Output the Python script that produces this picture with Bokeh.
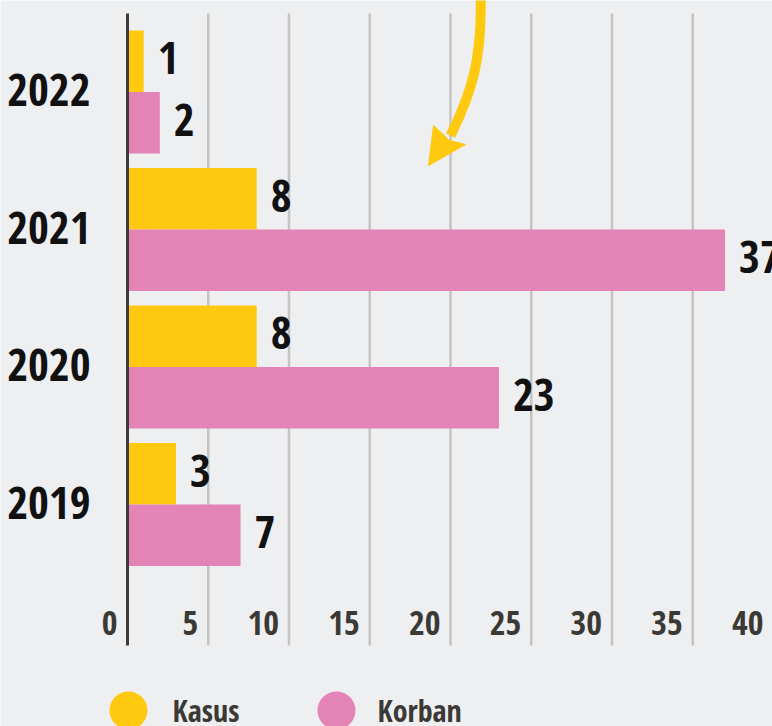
from bokeh.plotting import figure
from bokeh.models import Range1d, ColumnDataSource
from bokeh.core.properties import value
from bokeh.embed import file_html
from bokeh.resources import INLINE

# ---- data ----
years = ["2022", "2021", "2020", "2019"]
kasus = [1, 8, 8, 3]
korban = [2, 37, 23, 7]
x_ticks = [0, 5, 10, 15, 20, 25, 30, 35, 40]
x_tick_labels = ["0", "5", "10", "15", "20", "25", "30", "35", "40"]
series_names = ["Kasus", "Korban"]

# ---- style ----
BG = "#EEEFF1"
YELLOW = "#FFC90F"
PINK = "#E483B5"
GRID = "#C6C4C1"
AXIS = "#3F3C38"
DARK = "#3B3935"
FONT = value("'Open Sans Condensed', 'Roboto Condensed', sans-serif")

pos = [3, 2, 1, 0]          # group centres, 2022 at top
half = 0.2236               # bar centre offset within a group
bar_h = 0.447

p = figure(width=772, height=726,
           x_range=Range1d(-7.864, 39.938), y_range=Range1d(-1.6145, 3.6655),
           output_backend="svg", toolbar_location=None,
           x_axis_location=None, y_axis_location=None,
           min_border=0, background_fill_color=BG, border_fill_color=BG,
           outline_line_color=None)
p.grid.visible = False

# grid lines and axis line
g_top, g_bot = 3.571, -1.025
grid_x = [t for t in x_ticks if t > 0]
p.segment(x0=grid_x, x1=grid_x, y0=[g_top]*len(grid_x), y1=[g_bot]*len(grid_x),
          line_color=GRID, line_width=2.5)

# bars
src = ColumnDataSource(dict(
    year=years, kasus=kasus, korban=korban,
    yk=[g + half for g in pos], yb=[g - half for g in pos],
    kasus_t=[str(v) for v in kasus], korban_t=[str(v) for v in korban],
    g=pos))
p.hbar(y="yk", left=0, right="kasus", height=bar_h, fill_color=YELLOW,
       line_color=None, source=src)
p.hbar(y="yb", left=0, right="korban", height=bar_h, fill_color=PINK,
       line_color=None, source=src)

p.segment(x0=[0], x1=[0], y0=[g_top], y1=[g_bot], line_color=AXIS, line_width=3)

# value labels
for ycol, xcol, tcol in (("yk", "kasus", "kasus_t"), ("yb", "korban", "korban_t")):
    p.text(x=xcol, y=ycol, text=tcol, source=src, x_offset=14, y_offset=-3,
           text_align="left", text_baseline="middle", text_font=FONT,
           text_font_style="bold", text_font_size="45px", text_color="#111111")

# year labels
p.text(x=0, y="g", text="year", source=src, x_offset=-37, y_offset=-2,
       text_align="right", text_baseline="middle", text_font=FONT,
       text_font_style="bold", text_font_size="45px", text_color="#111111")

# x tick labels
p.text(x=x_ticks, y=[-0.865]*len(x_ticks), text=x_tick_labels, x_offset=-10,
       text_align="right", text_baseline="middle", text_font=FONT,
       text_font_style="bold", text_font_size="34px", text_color=DARK)

# legend
leg_y = -1.498
p.scatter(x=[0.06, 12.94], y=[leg_y, leg_y], size=38, marker="circle",
          fill_color=[YELLOW, PINK], line_color=None)
p.text(x=[2.79, 15.48], y=[leg_y, leg_y], text=series_names,
       text_align="left", text_baseline="middle", text_font=FONT,
       text_font_style="bold", text_font_size="30px", text_color=DARK)

# curved arrow annotation
p.bezier(x0=[21.86], y0=[3.702], x1=[20.0], y1=[2.684],
         cx0=[21.98], cy0=[3.229], cx1=[21.24], cy1=[2.975],
         line_color=YELLOW, line_width=10)
p.patch(x=[18.64, 18.95, 19.94, 20.93], y=[2.465, 2.756, 2.647, 2.618],
        fill_color=YELLOW, line_color=YELLOW, line_width=1)

open("out.html", "w").write(file_html(p, INLINE))
